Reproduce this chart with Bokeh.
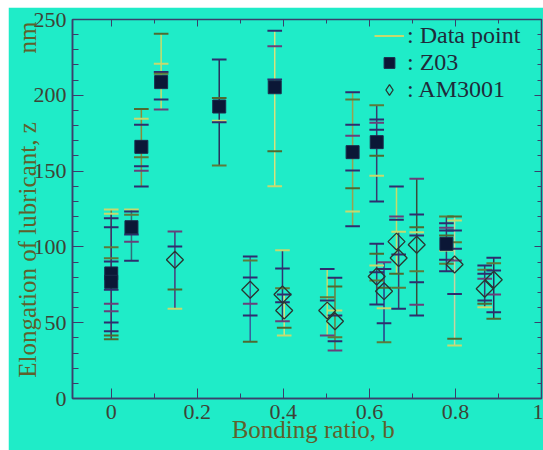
import numpy as np
from bokeh.plotting import figure
from bokeh.models import (ColumnDataSource, Range1d, FixedTicker, LinearAxis,
                          Legend, LegendItem, Spacer, CustomJSTickFormatter)
from bokeh.layouts import column, row
from bokeh.embed import file_html
from bokeh.resources import INLINE

# ---------------- data ----------------
x_ticks = [0, 0.2, 0.4, 0.6, 0.8, 1.0]
x_tick_labels = ["0", "0.2", "0.4", "0.6", "0.8", "1"]
x_minor = [0.1, 0.3, 0.5, 0.7, 0.9]
y_ticks = [0, 50, 100, 150, 200, 250]
y_minor = [10, 20, 30, 40, 60, 70, 80, 90, 110, 120, 130, 140, 160, 170, 180, 190, 210, 220, 230, 240]
x_title = "Bonding ratio, b"
y_title = "Elongation of lubricant, z"
y_unit = "nm"

# Z03 (filled squares): bonding ratio, mean elongation, individual data points
z03_b = [0.0, 0.0, 0.047, 0.07, 0.116, 0.251, 0.38, 0.561, 0.617, 0.779]
z03_z = [82.5, 77.0, 113.0, 166.0, 208.7, 192.6, 205.3, 162.5, 169.1, 102.0]
z03_points = [
    [124.7, 118.9, 99.8, 90.4, 62.5, 50.1, 41.6],
    [121.8, 113.0, 92.5, 71.7, 57.6, 44.4, 39.1],
    [124.7, 123.4, 121.2, 108.2, 103.4, 90.8],
    [191.0, 184.5, 180.5, 159.2, 153.2, 150.2, 139.8],
    [240.6, 220.8, 215.3, 214.2, 197.2, 190.6],
    [223.6, 198.3, 183.2, 182.3, 153.7],
    [242.5, 232.4, 210.4, 163.1, 140.0],
    [202.0, 197.2, 180.5, 173.3, 150.4, 138.7, 123.4, 113.7],
    [193.5, 184.0, 181.9, 177.2, 160.1, 146.9, 130.0],
    [120.0, 115.6, 112.6, 110.8, 107.5, 97.6, 91.5, 88.9, 84.0],
]

# AM3001 (open diamonds)
am_b = [0.148, 0.323, 0.398, 0.402, 0.502, 0.52, 0.617, 0.634, 0.663, 0.668, 0.71, 0.798, 0.868, 0.889]
am_z = [91.5, 71.7, 68.6, 58.0, 58.0, 51.0, 80.5, 70.8, 103.5, 92.7, 101.4, 88.4, 72.4, 78.3]
am_points = [
    [110.2, 100.3, 71.9, 59.2],
    [93.7, 91.0, 79.8, 62.5, 54.7, 37.4],
    [97.8, 85.8, 72.8, 63.5, 51.0],
    [68.6, 46.6, 41.6],
    [85.5, 66.8, 64.6, 41.6],
    [79.6, 73.9, 58.0, 54.7, 40.4, 37.8, 31.7],
    [102.0, 95.4, 87.7, 83.3, 77.8, 62.0],
    [89.9, 85.5, 73.0, 59.6, 49.7, 37.1],
    [139.8, 120.0, 117.9, 82.3],
    [110.0, 95.0, 73.0, 59.2],
    [144.9, 121.4, 113.0, 109.7, 107.5, 84.0, 76.7, 61.8, 54.7],
    [120.0, 117.4, 110.8, 103.1, 98.7, 91.0, 69.0, 39.4, 35.0],
    [87.7, 84.9, 82.3, 79.0, 64.6, 62.5, 60.2],
    [92.8, 89.2, 84.4, 68.6, 56.9, 52.6],
]

# ---------------- styles ----------------
BG = "#1fecc8"
AX = "#3b3f6b"
TICK_TXT = "#3e4236"
LAB_TXT = "#5f602c"
FONT = "Liberation Serif"
NB = "\u00a0"
z03_line_colors = ["#6f7a3c", "#3a3470", "#2f6f7a", "#8a8a3a", "#c9dc6a",
                   "#2a2f5a", "#d8e27c", "#9aa050", "#3a3a6e", "#3a3a6e"]
am_line_colors = ["#4a3a7a", "#3a5a9a", "#2e3470", "#d8e27c", "#c9dc6a", "#6f7a3c", "#3a3a6e",
                  "#2a3a8a", "#c9dc6a", "#3a3a6e", "#3a4a3a", "#c9d4a0", "#3a3a6e", "#2a2f5a"]
cap_colors = ["#c7d96e", "#2e2d6e", "#5d7a3a", "#2e2d6e", "#6a3f7a", "#2e2d6e", "#4f6a30"]
cap_half = 0.017

# ---------------- build sources ----------------
vx, vy0, vy1, vc = [], [], [], []
cx0, cx1, cy, cc = [], [], [], []
k = 0
for bs, zs, pts_list, cols in [(z03_b, z03_z, z03_points, z03_line_colors),
                               (am_b, am_z, am_points, am_line_colors)]:
    for b, z, pts, col in zip(bs, zs, pts_list, cols):
        allv = list(pts) + [z]
        vx.append(b); vy0.append(min(allv)); vy1.append(max(allv)); vc.append(col)
        for v in pts:
            cx0.append(b - cap_half); cx1.append(b + cap_half); cy.append(v)
            cc.append(cap_colors[k % len(cap_colors)])
            k += 1

vsrc = ColumnDataSource(dict(x=vx, y0=vy0, y1=vy1, c=vc))
csrc = ColumnDataSource(dict(x0=cx0, x1=cx1, y=cy, c=cc))
zsrc = ColumnDataSource(dict(x=z03_b, y=z03_z))
asrc = ColumnDataSource(dict(x=am_b, y=am_z))

p = figure(width=535, height=443, x_range=Range1d(-0.09, 1.0), y_range=Range1d(0, 250),
           output_backend="svg", toolbar_location=None,
           min_border_left=64, min_border_right=2, min_border_top=12, min_border_bottom=52,
           background_fill_color=BG, border_fill_color=BG, outline_line_color=AX,
           outline_line_width=1.5)
p.grid.visible = False

p.segment(x0="x", x1="x", y0="y0", y1="y1", source=vsrc, line_color="c", line_width=1.5)
caps = p.segment(x0="x0", x1="x1", y0="y", y1="y", source=csrc, line_color="c", line_width=2)
sq = p.scatter(x="x", y="y", source=zsrc, marker="square", size=13,
               fill_color="#0b1736", line_color="#1c2c4c", line_width=1)
dia = p.scatter(x="x", y="y", source=asrc, marker="square", angle=np.pi / 4, size=12,
                fill_color=None, line_color="#2a3530", line_width=1.3)
# legend swatch for the open diamonds (hidden in the plot itself)
dia_key = p.scatter(x="x", y="y", source=asrc, marker="diamond", size=16, visible=False,
                    fill_color=None, line_color="#2a3530", line_width=1.3)

# axes
xa = p.xaxis[0]
xa.ticker = FixedTicker(ticks=x_ticks, minor_ticks=x_minor)
xa.major_label_overrides = {t: l for t, l in zip(x_ticks, x_tick_labels)}
ya = p.yaxis[0]
ya.ticker = FixedTicker(ticks=y_ticks, minor_ticks=y_minor)
for ax in (xa, ya):
    ax.axis_line_color = AX
    ax.axis_line_width = 1.5
    ax.major_tick_line_color = AX
    ax.minor_tick_line_color = AX
    ax.major_tick_out = 0
    ax.minor_tick_out = 0
    ax.major_label_text_font = FONT
    ax.major_label_text_font_size = "22px"
    ax.major_label_text_color = TICK_TXT
    ax.major_label_standoff = 6
    ax.axis_label_text_font = FONT
    ax.axis_label_text_font_size = "25px"
    ax.axis_label_text_font_style = "normal"
    ax.axis_label_text_color = LAB_TXT
xa.major_tick_in = 10
xa.minor_tick_in = 5
ya.major_tick_in = 11
ya.minor_tick_in = 6
xa.axis_label = NB * 2 + x_title
xa.axis_label_standoff = -6
ya.axis_label = NB * 3 + y_title + NB * 11 + y_unit
ya.axis_label_standoff = -10

blank = CustomJSTickFormatter(code="return '';")
top = LinearAxis(ticker=FixedTicker(ticks=x_ticks, minor_ticks=x_minor), formatter=blank)
right = LinearAxis(ticker=FixedTicker(ticks=y_ticks, minor_ticks=y_minor), formatter=blank)
for ax in (top, right):
    ax.axis_line_color = AX
    ax.major_tick_line_color = AX
    ax.minor_tick_line_color = AX
    ax.major_tick_out = 0
    ax.minor_tick_out = 0
    ax.major_tick_in = 7
    ax.minor_tick_in = 4
    ax.major_label_standoff = 0
p.add_layout(top, "above")
p.add_layout(right, "right")

legend = Legend(items=[LegendItem(label=": Data point", renderers=[caps], index=0),
                       LegendItem(label=": Z03", renderers=[sq]),
                       LegendItem(label=": AM3001", renderers=[dia_key])],
                location=(302, 295), background_fill_alpha=0, border_line_alpha=0,
                label_text_font=FONT, label_text_font_size="24px", label_text_color="#1f2a3a",
                glyph_width=30, glyph_height=27, label_height=27, spacing=0, padding=0,
                margin=0, label_standoff=3)
p.add_layout(legend)

layout = column(Spacer(height=7), row(Spacer(width=8), p))
open("out.html", "w").write(file_html(layout, INLINE))
